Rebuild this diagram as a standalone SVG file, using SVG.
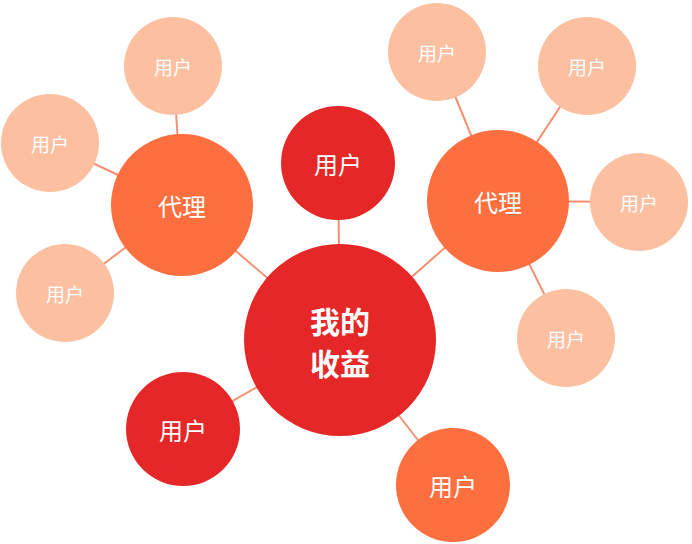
<svg xmlns="http://www.w3.org/2000/svg" width="692" height="544" viewBox="0 0 692 544">
<style>
.red{fill:#E52727}.org{fill:#FD6F3F}.pch{fill:#FCC0A1}
text{font-family:"Noto Sans CJK SC",sans-serif;fill:#fff;text-anchor:middle;dominant-baseline:central}
.s{font-size:19px}.m{font-size:24px}.b{font-size:30px;font-weight:bold}
#links line{stroke:#F39072;stroke-width:2}
</style>
<rect width="692" height="544" fill="#fff"/>
<g id="links">
<line x1="340" y1="340" x2="338" y2="163"/>
<line x1="340" y1="340" x2="182" y2="205"/>
<line x1="340" y1="340" x2="498" y2="201"/>
<line x1="340" y1="340" x2="183" y2="429"/>
<line x1="340" y1="340" x2="453" y2="485"/>
<line x1="182" y1="205" x2="173" y2="66"/>
<line x1="182" y1="205" x2="50" y2="143"/>
<line x1="182" y1="205" x2="65" y2="293"/>
<line x1="498" y1="201" x2="437" y2="52"/>
<line x1="498" y1="201" x2="587" y2="66"/>
<line x1="498" y1="201" x2="639" y2="202"/>
<line x1="498" y1="201" x2="566" y2="338"/>
</g>
<g id="u1"><circle class="pch" cx="173" cy="66" r="49"/><text class="s" x="173" y="66">用户</text></g>
<g id="u2"><circle class="pch" cx="50" cy="143" r="49"/><text class="s" x="50" y="143">用户</text></g>
<g id="u3"><circle class="pch" cx="65" cy="293" r="49"/><text class="s" x="65" y="293">用户</text></g>
<g id="u4"><circle class="pch" cx="437" cy="52" r="49"/><text class="s" x="437" y="52">用户</text></g>
<g id="u5"><circle class="pch" cx="587" cy="66" r="49"/><text class="s" x="587" y="66">用户</text></g>
<g id="u6"><circle class="pch" cx="639" cy="202" r="49"/><text class="s" x="639" y="202">用户</text></g>
<g id="u7"><circle class="pch" cx="566" cy="338" r="49"/><text class="s" x="566" y="338">用户</text></g>
<g id="agentL"><circle class="org" cx="182" cy="205" r="71"/><text class="m" x="182" y="205">代理</text></g>
<g id="agentR"><circle class="org" cx="498" cy="201" r="71"/><text class="m" x="498" y="201">代理</text></g>
<g id="uTop"><circle class="red" cx="338" cy="163" r="57"/><text class="m" x="338" y="163">用户</text></g>
<g id="uLeft"><circle class="red" cx="183" cy="429" r="57"/><text class="m" x="183" y="429">用户</text></g>
<g id="uBottom"><circle class="org" cx="453" cy="485" r="57"/><text class="m" x="453" y="485">用户</text></g>
<g id="center"><circle class="red" cx="340" cy="340" r="96"/><text class="b" x="340" y="320">我的</text><text class="b" x="340" y="362">收益</text></g>
</svg>
